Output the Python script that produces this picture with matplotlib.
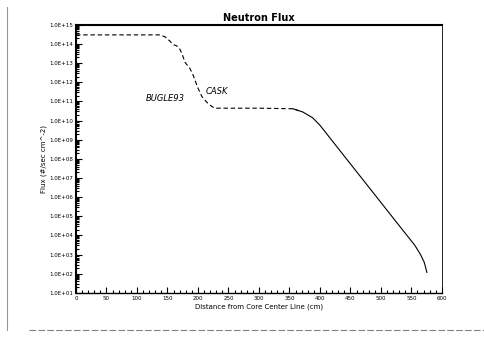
import numpy as np
import matplotlib.pyplot as plt
from matplotlib.lines import Line2D
from matplotlib.ticker import FixedLocator, MultipleLocator, FuncFormatter, LogLocator, NullFormatter

# ---- data (distance cm, log10 flux) ----
bugle_x = [0, 60, 120, 137.7, 145.9, 154.1, 159.0, 165.6, 170.0, 173.8, 178.7, 186.9,
           191.8, 200.0, 206.6, 214.8, 223.0, 227.9, 300, 355.7, 365]
bugle_logy = [14.48, 14.48, 14.48, 14.48, 14.38, 14.15, 13.98, 13.90, 13.75, 13.50, 13.05, 12.72,
              12.40, 11.70, 11.25, 10.95, 10.73, 10.65, 10.65, 10.62, 10.52]

cask_x = [355.7, 372, 388, 400, 420, 450, 480, 510, 540, 555.7, 565, 571, 575.4]
cask_logy = [10.62, 10.45, 10.15, 9.76, 8.95, 7.74, 6.53, 5.32, 4.11, 3.48, 3.00, 2.60, 2.07]

decades = list(range(1, 16))

fig = plt.figure(figsize=(4.84, 3.37), dpi=100)
ax = fig.add_axes([0.157, 0.131, 0.756, 0.795])

ax.plot(bugle_x, 10.0 ** np.array(bugle_logy), color='black', lw=0.8, ls=(0, (4, 2.5)))
ax.plot(cask_x, 10.0 ** np.array(cask_logy), color='black', lw=0.8)

ax.text(115, 10 ** 11.18, 'BUGLE93', fontsize=6, style='italic', va='center')
ax.text(213, 10 ** 11.52, 'CASK', fontsize=6, style='italic', va='center')

ax.set_yscale('log')
ax.set_ylim(1e1, 1e15)
ax.set_xlim(0, 600)
ax.yaxis.set_major_locator(FixedLocator([10.0 ** d for d in decades]))
ax.yaxis.set_minor_locator(LogLocator(base=10, subs=np.arange(2, 10), numticks=30))
ax.yaxis.set_minor_formatter(NullFormatter())
ax.yaxis.set_major_formatter(FuncFormatter(lambda v, p: f"1.0E+{int(round(np.log10(v))):02d}"))
ax.xaxis.set_major_locator(MultipleLocator(50))
ax.xaxis.set_minor_locator(MultipleLocator(10))

ax.tick_params(which='both', direction='in', labelsize=4, pad=2)
ax.tick_params(which='major', length=4, width=0.8)
ax.tick_params(which='minor', length=2.5, width=0.8)

for side in ['left', 'top']:
    ax.spines[side].set_linewidth(1.5)
ax.spines['bottom'].set_linewidth(1.0)
ax.spines['right'].set_linewidth(0.6)

ax.set_title('Neutron Flux', fontsize=7, fontweight='bold', pad=3)
ax.set_xlabel('Distance from Core Center Line (cm)', fontsize=5, labelpad=2)
ax.set_ylabel('Flux (#/sec cm^-2)', fontsize=5, labelpad=2)

# scan border lines
fig.add_artist(Line2D([0.015, 0.015], [0.02, 0.98], color='0.6', lw=0.8, transform=fig.transFigure))
fig.add_artist(Line2D([0.06, 1.0], [0.02, 0.02], color='0.5', lw=0.8, ls=(0, (6, 2)),
                      transform=fig.transFigure))

fig.savefig('out.png', dpi=100)
